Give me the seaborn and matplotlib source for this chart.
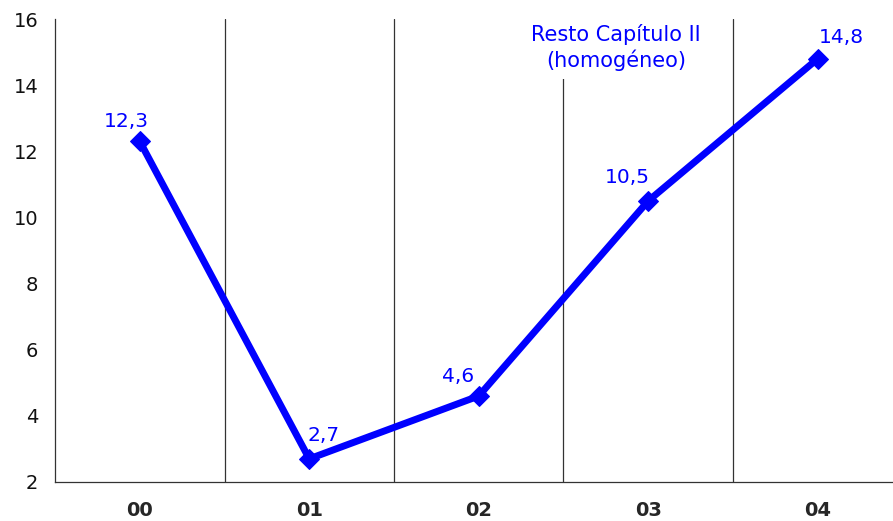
import pandas as pd
import matplotlib.pyplot as plt
import seaborn as sns

# data
years = ['00', '01', '02', '03', '04']
values = [12.3, 2.7, 4.6, 10.5, 14.8]
labels = ['12,3', '2,7', '4,6', '10,5', '14,8']

df = pd.DataFrame({'pos': range(len(years)), 'value': values})

sns.set_style('white')
plt.rcParams['font.family'] = ['DejaVu Sans']

fig = plt.figure(figsize=(8.93, 5.21), dpi=100)
ax = fig.add_axes([0.0616, 0.0749, 0.9384, 0.8886])

# vertical separators between categories
for xb in [0.5, 1.5, 2.5, 3.5]:
    ax.axvline(xb, color='#333333', lw=0.9, zorder=1)

sns.lineplot(data=df, x='pos', y='value', ax=ax, color='#0000FF',
             lw=5, marker='D', markersize=10, markeredgecolor='#0000FF',
             zorder=3)

# data labels (offsets in points)
offsets = [(-10, 14), (10, 16.5), (-15, 14), (-15, 16.5), (17, 15)]
for i, (v, lab) in enumerate(zip(values, labels)):
    ax.annotate(lab, (i, v), xytext=offsets[i], textcoords='offset points',
                ha='center', va='center', color='#0000FF', fontsize=14.5)

ax.text(2.81, 15.15, 'Resto Capítulo II\n(homogéneo)', ha='center', va='center',
        color='#0000FF', fontsize=15, linespacing=1.25,
        bbox=dict(facecolor='white', edgecolor='none', pad=6), zorder=2)

ax.set_yticks(range(2, 17, 2))
ax.set_xticks([-0.5, 0.5, 1.5, 2.5, 3.5, 4.5])
ax.set_xticklabels([])
ax.set_xticks(range(5), minor=True)
ax.set_xticklabels(years, minor=True, fontweight='bold', fontsize=14)
ax.set_xlim(-0.5, 4.444)
ax.set_ylim(2, 16)
ax.tick_params(axis='x', which='minor', length=0, pad=14)
ax.tick_params(axis='x', which='major', length=6, width=0.9, color='#333333', direction='out')
ax.tick_params(axis='y', length=5, width=0.9, color='#333333', labelsize=14, pad=7,
               labelcolor='#111111')
ax.set_xlabel('')
ax.set_ylabel('')

for s in ['top', 'right']:
    ax.spines[s].set_visible(False)
for s in ['left', 'bottom']:
    ax.spines[s].set_color('#333333')
    ax.spines[s].set_linewidth(0.9)

fig.savefig('out.png', dpi=100)
